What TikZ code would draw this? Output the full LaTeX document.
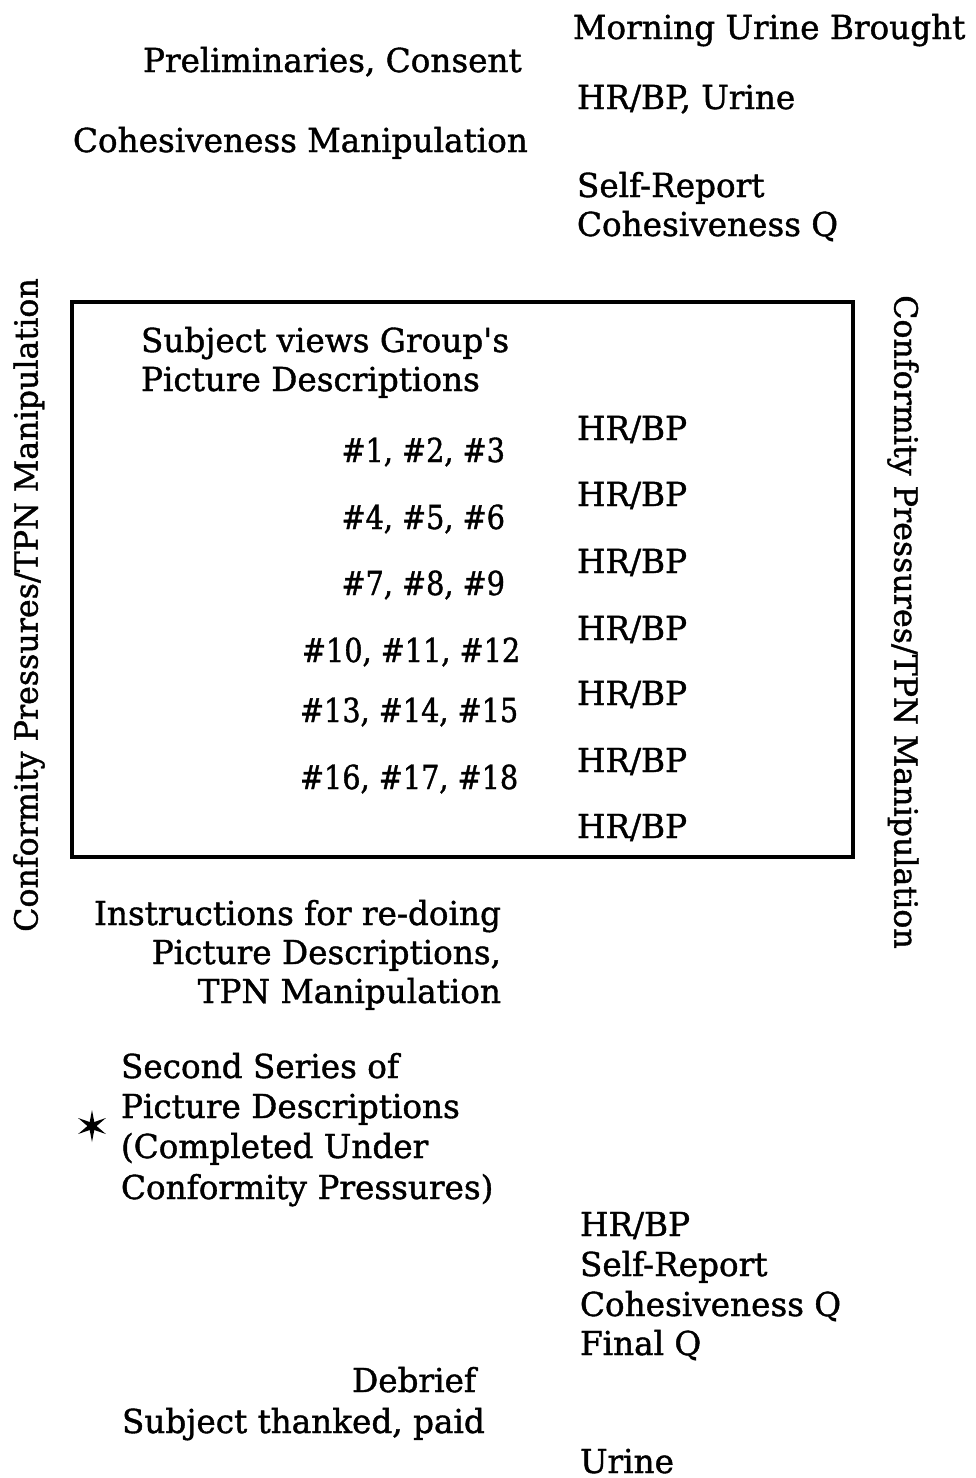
\documentclass[tikz,border=0pt]{standalone}
\usepackage{fontspec}
\usetikzlibrary{calc}
\setmainfont{DejaVu Serif}[FakeStretch=0.99,FakeBold=1.2]
\newfontfamily\numfont{DejaVu Serif}[FakeStretch=0.87,FakeBold=1.2]
\begin{document}
\begin{tikzpicture}[x=1pt,y=-1pt,
  txt/.style={inner sep=0pt,outer sep=0pt,font=\fontsize{33}{40}\selectfont},
  tl/.style={txt,anchor=base west},
  tr/.style={txt,anchor=base east},
  num/.style={font=\fontsize{33}{40}\numfont},
  side/.style={txt,font=\fontsize{32}{40}\selectfont}]
\useasboundingbox (0,0) rectangle (975,1478);
% top
\node[tl] (morning) at (573,39) {Morning Urine Brought};
\node[tl] (prelim) at (143,72) {Preliminaries, Consent};
\node[tl] (hrbpu) at (577,109) {HR/BP, Urine};
\node[tl] (cohman) at (73,152) {Cohesiveness Manipulation};
\node[tl] (sr1a) at (577,197) {Self-Report};
\node[tl] (sr1b) at (577,236) {Cohesiveness Q};
% box
\draw[line width=4.6pt] (72,302) rectangle (853,857);
\node[tl] (views1) at (141,352) {Subject views Group\textquotesingle s};
\node[tl] (views2) at (141,391) {Picture Descriptions};
\foreach \y [count=\i] in {440,506,573,640,705,772,838}
  \node[tl] (hr\i) at (577,\y) {HR/BP};
\node[tr,num] (p1) at (505,462) {\#1, \#2, \#3};
\node[tr,num] (p2) at (505,529) {\#4, \#5, \#6};
\node[tr,num] (p3) at (505,595) {\#7, \#8, \#9};
\node[tl,num] (p4) at (302,662) {\#10, \#11, \#12};
\node[tl,num] (p5) at (300,722) {\#13, \#14, \#15};
\node[tl,num] (p6) at (300,789) {\#16, \#17, \#18};
% side labels
\node[side,rotate=90] (left) at (29,605) {Conformity Pressures/TPN Manipulation};
\node[side,rotate=-90] (right) at (903,622) {Conformity Pressures/TPN Manipulation};
% lower
\node[tr] (ins1) at (501,925) {Instructions for re-doing};
\node[tr] (ins2) at (501,964) {Picture Descriptions,};
\node[tr] (ins3) at (501,1003) {TPN Manipulation};
\node[tl] (ss1) at (121,1078) {Second Series of};
\node[tl] (ss2) at (121,1118) {Picture Descriptions};
\node[tl] (ss3) at (121,1158) {(Completed Under};
\node[tl] (ss4) at (121,1199) {Conformity Pressures)};
\coordinate (star) at (92,1126);
\fill ($(star)+(90:16)$)
  \foreach \k in {0,...,5} { -- ($(star)+(120+60*\k:4.6)$) -- ($(star)+(150+60*\k:16)$) } -- cycle;
\node[tl] (fin1) at (580,1236) {HR/BP};
\node[tl] (fin2) at (580,1276) {Self-Report};
\node[tl] (fin3) at (580,1316) {Cohesiveness Q};
\node[tl] (fin4) at (580,1355) {Final Q};
\node[tr] (debrief) at (476,1392) {Debrief};
\node[tl] (thanks) at (122,1433) {Subject thanked, paid};
\node[tl] (urine) at (580,1473) {Urine};
\end{tikzpicture}
\end{document}
